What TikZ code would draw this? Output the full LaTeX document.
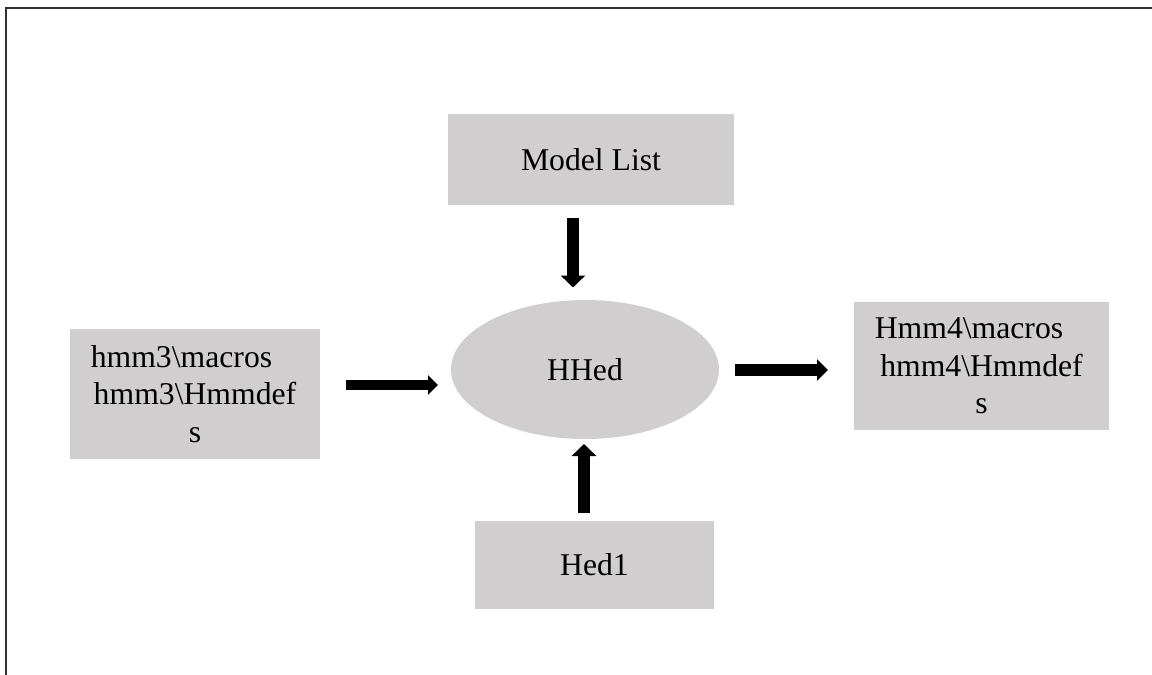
\documentclass[tikz,border=0pt]{standalone}
\usepackage{fontspec}
\setmainfont{Liberation Serif}
\usetikzlibrary{arrows.meta,shapes.geometric}
\definecolor{boxgray}{RGB}{208,206,207}
\definecolor{framegray}{RGB}{50,50,50}
\begin{document}
\begin{tikzpicture}[x=1pt,y=-1pt,
  txt/.style={font=\fontsize{31.7}{37.5}\selectfont, text=black},
  box/.style={txt, fill=boxgray, draw=none, inner sep=0pt, align=center},
  hub/.style={txt, ellipse, fill=boxgray, draw=none, inner sep=0pt},
  flow/.style={line width=12pt, -{Triangle[width=24pt,length=12pt]}},
  flowthin/.style={line width=10pt, -{Triangle[width=19pt,length=10pt]}},
]
\useasboundingbox (0,0) rectangle (1152,675);
% frame along the left and top edges
\draw[framegray, line width=2pt] (6,675) -- (6,7.5) -- (1152,7.5);

% nodes
\node[box, minimum width=286pt, minimum height=91pt] (models) at (591,159.5) {Model List};
\node[hub, minimum width=268pt, minimum height=139pt] (hhed) at (585,369.5) {HHed};
\node[box, minimum width=250pt, minimum height=130pt] (inputs) at (195,394)
  {hmm3\textbackslash macros\makebox[27pt]{}\\hmm3\textbackslash Hmmdef\\s};
\node[box, minimum width=255pt, minimum height=128pt] (outputs) at (981.5,366)
  {Hmm4\textbackslash macros\makebox[25pt]{}\\hmm4\textbackslash Hmmdef\\s};
\node[box, minimum width=239pt, minimum height=88pt] (hed) at (594.5,565) {Hed1};

% arrow end points
\coordinate (inS) at (346,385);   \coordinate (inE) at (438,385);
\coordinate (outS) at (735,370);  \coordinate (outE) at (828,370);
\coordinate (topS) at (573,218);  \coordinate (topE) at (573,287.5);
\coordinate (botS) at (584,513);  \coordinate (botE) at (584,444);

% connectors
\draw[flowthin] (inS) -- (inE);
\draw[flow, line width=11.5pt, -{Triangle[width=21pt,length=11pt]}] (outS) -- (outE);
\draw[flow] (topS) -- (topE);
\draw[flow] (botS) -- (botE);
\end{tikzpicture}
\end{document}
